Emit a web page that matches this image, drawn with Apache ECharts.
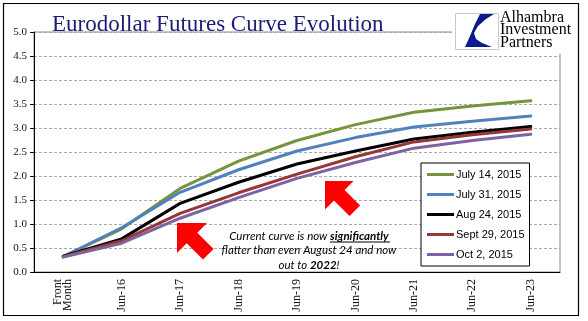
<!DOCTYPE html>
<html><head><meta charset="utf-8">
<script src="https://cdn.jsdelivr.net/npm/echarts@6/dist/echarts.min.js"></script>
<style>html,body{margin:0;padding:0;background:#fff}#c{width:588px;height:321px}</style>
</head><body><div id="c"></div>
<script>
const categories = ['Front\nMonth','Jun-16','Jun-17','Jun-18','Jun-19','Jun-20','Jun-21','Jun-22','Jun-23'];
const seriesNames = ['July 14, 2015','July 31, 2015','Aug 24, 2015','Sept 29, 2015','Oct 2, 2015'];
const jul14 = [0.32,0.90,1.74,2.31,2.74,3.07,3.33,3.46,3.57];
const jul31 = [0.32,0.92,1.66,2.13,2.52,2.80,3.02,3.14,3.25];
const aug24 = [0.33,0.69,1.43,1.87,2.25,2.52,2.77,2.91,3.03];
const sep29 = [0.32,0.65,1.22,1.65,2.04,2.40,2.71,2.86,2.98];
const oct2  = [0.31,0.60,1.12,1.55,1.95,2.28,2.58,2.74,2.87];
const colors = ['#77933C','#4F81BD','#000000','#953735','#7F63A1'];

function arrow(tx, ty, head, halfW, len){
  const ax = tx + head, ay = ty, bx = tx, by = ty + head;
  const mx = (ax+bx)/2, my = (ay+by)/2;
  const o = halfW*0.7071, l = len*0.7071;
  return [[tx,ty],[ax,ay],[mx+o,my-o],[mx+o+l,my-o+l],[mx-o+l,my+o+l],[mx-o,my+o],[bx,by]];
}

const chart = echarts.init(document.getElementById('c'), null, {renderer:'canvas'});
const allData = [jul14, jul31, aug24, sep29, oct2];
chart.setOption({
  animation:false,
  color: colors,
  title:{text:'Eurodollar Futures Curve Evolution', left:47, top:8,
    textStyle:{fontFamily:'Liberation Serif', fontSize:23, fontWeight:'normal', color:'#1C1C78'}},
  grid:{left:34, right:28, top:32, bottom:49, show:true, borderColor:'#8c8c8c', borderWidth:1, containLabel:false},
  legend:{orient:'vertical', left:421, top:163, padding:[5,5,5,6], itemGap:7,
    backgroundColor:'#fff', borderColor:'#000', borderWidth:1,
    icon:'rect', itemWidth:27, itemHeight:3,
    textStyle:{fontFamily:'Liberation Sans', fontSize:11, color:'#000', lineHeight:13, padding:[0,0,0,-3]},
    data: seriesNames},
  xAxis:{type:'category', data:categories, boundaryGap:true,
    axisLine:{lineStyle:{color:'#000', width:1}},
    axisTick:{length:4, lineStyle:{color:'#000'}},
    axisLabel:{rotate:90, interval:0, margin:7, fontFamily:'Liberation Serif', fontSize:12, color:'#111', lineHeight:10}},
  yAxis:{type:'value', min:0, max:5, interval:0.5,
    axisLine:{show:true, lineStyle:{color:'#000', width:1}},
    axisTick:{show:true, length:4, lineStyle:{color:'#000'}},
    axisLabel:{margin:7, fontFamily:'Liberation Serif', fontSize:11, color:'#111', formatter:v=>v.toFixed(1)},
    splitLine:{lineStyle:{color:'#a8a8a8', type:[3,2], width:1}}},
  series: seriesNames.map((n,i)=>({name:n, type:'line', data:allData[i], symbol:'none',
    lineStyle:{width:3, color:colors[i], join:'round', cap:'round'}, z:2+i})),
  graphic:[
    {type:'rect', shape:{x:3.5,y:3.5,width:575,height:312}, style:{fill:'none', stroke:'#000', lineWidth:1.2}, z:100},
    {type:'rect', shape:{x:452,y:5,width:123,height:49}, style:{fill:'#fff'}, z:50},
    {type:'rect', shape:{x:455.5,y:13.5,width:43,height:36}, style:{fill:'#fff', stroke:'#c8c8c8', lineWidth:1}, z:51},
    {type:'polygon', shape:{points:[[480,14],[494,14],[486,19],[478,26],[474,33],[476,39],[482,43],[492,47],[465,47],[470,36],[475,24]]}, style:{fill:'#0A1A8C'}, z:52},
    {type:'text', x:500, y:11, style:{text:'Alhambra\nInvestment\nPartners', fontFamily:'Liberation Serif', fontSize:16, lineHeight:12.8, fill:'#000'}, z:52},
    {type:'polygon', shape:{points:arrow(177,223,30,7.5,23)}, style:{fill:'#FF0000'}, z:20},
    {type:'polygon', shape:{points:arrow(325,181,28.5,7.5,22)}, style:{fill:'#FF0000'}, z:20},
    {type:'text', x:309, y:229, style:{
      text:'{i|Current curve is now }{b|significantly}\n{i|flatter than even August 24 and now}\n{i|out to }{b|2022}{i|!}',
      align:'center', lineHeight:14.5,
      rich:{
        i:{fontFamily:'Lato', fontStyle:'italic', fontSize:11.5, fill:'#000', lineHeight:14.5},
        b:{fontFamily:'Lato', fontStyle:'italic', fontWeight:'bold', fontSize:11.5, fill:'#000', lineHeight:14.5}
      }}, z:30},
    {type:'line', shape:{x1:330, y1:242, x2:390, y2:242}, style:{stroke:'#000', lineWidth:1}, z:30}
  ]
});
</script></body></html>
